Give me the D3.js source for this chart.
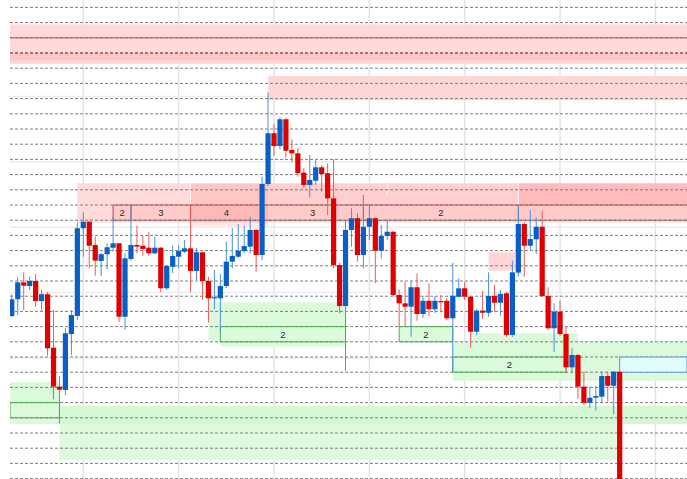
<!DOCTYPE html>
<html><head><meta charset="utf-8">
<script src="https://cdn.jsdelivr.net/npm/d3@7"></script>
<style>html,body{margin:0;padding:0;background:#fff;overflow:hidden}</style>
</head><body><svg id="c" width="687" height="479"></svg>
<script>
// ---- data (price units) ----
const opens = [107.0,118.0,129.1,126.7,130.0,116.8,121.3,86.1,60.5,58.3,
95.1,107.0,164.7,169.0,153.7,143.2,147.6,151.9,154.8,106.5,
144.5,153.7,153.2,151.9,148.2,151.9,125.2,139.4,146.0,149.3,
151.5,136.6,148.9,130.0,118.6,118.6,126.7,142.7,146.0,149.7,
152.6,163.6,147.1,193.8,227.2,218.8,236.4,216.2,214.0,201.3,
193.2,196.0,204.8,200.9,184.4,140.5,113.6,163.6,171.3,147.1,
165.7,171.3,149.9,159.6,162.4,120.8,115.3,113.1,125.9,108.3,
117.0,111.4,116.8,117.0,105.5,119.7,125.2,119.7,96.6,110.5,
109.1,120.1,115.7,121.9,94.5,135.5,167.5,153.2,157.4,165.7,
120.1,98.9,109.8,95.1,73.2,81.3,60.5,49.9,53.2,53.9,
67.5,61.1,70.3];
const highs = [121.3,132.4,135.7,132.8,134.6,124.1,122.8,110.9,67.5,98.9,
110.9,168.6,175.2,169.5,159.2,148.4,154.8,172.8,155.0,148.2,
179.5,166.4,159.8,162.4,159.2,152.4,140.5,153.2,153.7,157.0,
179.5,151.7,149.1,132.8,137.2,134.6,155.9,164.7,167.5,166.4,
172.3,164.2,198.6,254.1,233.3,237.7,237.2,223.2,217.3,204.3,
212.9,209.6,206.3,207.4,210.1,141.8,170.1,177.8,174.7,186.6,
180.5,171.8,166.8,170.1,162.9,124.5,129.5,130.0,135.1,120.1,
128.5,120.1,120.8,118.8,142.0,131.8,129.5,120.1,111.4,123.6,
135.7,127.4,124.1,122.8,143.4,179.5,168.8,176.7,171.9,176.3,
125.9,115.3,117.0,99.9,85.7,82.0,70.3,60.5,60.9,70.3,
70.3,70.8,70.5];
const lows = [106.3,107.6,110.9,124.1,113.1,110.5,80.9,52.4,36.4,55.0,
81.3,104.3,146.0,138.4,133.5,133.3,137.7,149.3,103.0,97.8,
143.2,148.2,146.6,146.6,147.8,122.6,124.1,135.1,138.4,148.4,
122.6,130.7,117.5,102.8,111.4,96.6,125.4,138.4,144.9,148.4,
148.2,136.1,143.8,192.5,212.2,216.6,211.1,207.8,198.6,191.8,
185.1,193.2,188.8,173.4,138.6,108.8,71.0,152.6,142.7,138.4,
157.0,128.5,144.9,157.0,120.1,99.9,100.4,93.4,103.9,105.7,
107.0,109.0,109.8,104.3,70.3,118.8,117.5,86.1,94.5,105.0,
106.5,109.8,107.0,93.2,93.2,132.8,132.8,150.4,147.8,119.5,
97.8,83.5,93.8,69.3,69.9,52.4,48.4,46.3,44.7,49.5,
50.6,42.5,-3.0];
const closes = [118.0,129.1,126.9,130.0,116.8,121.3,85.7,60.5,58.5,95.6,
107.6,164.7,169.0,153.2,143.4,147.6,152.2,154.8,106.5,144.9,
153.7,152.6,151.1,148.2,151.9,125.2,139.9,146.5,149.7,151.5,
136.6,148.9,130.0,118.6,119.3,126.7,142.7,146.5,149.9,153.0,
163.6,147.1,193.8,227.2,218.8,236.4,215.7,214.0,200.9,193.2,
196.5,204.8,200.4,184.4,140.5,113.6,163.6,171.3,147.1,165.7,
171.3,149.9,159.6,162.4,120.8,115.3,113.1,125.9,108.3,117.0,
111.4,117.0,116.2,105.5,120.3,125.2,119.7,96.6,110.5,109.1,
120.1,115.7,121.5,94.5,135.7,167.5,153.2,157.6,165.7,120.1,
98.9,109.8,95.1,73.2,81.3,60.5,49.9,53.2,54.3,67.5,
61.1,70.3,-2.0];

// dashed price levels
const levels = [310,300,290,280,270,260,250,240,230,220,210,200,190,180,170,160,
150,140,130,120,110,100,90,80,70,60,50,40,30,20,10,0];
// chart grid
const gridPrices = [294.5,251.4,208.4,165.4,122.4,79.4,36.4];
const gridIndex = [12,28,44,60,76,92,108];

// zones: [fromIndex, toIndex, top, bottom]  (null = chart edge)
const supplyZones = [
  [null,null,298.9,272.8],[null,null,280.0,274.9],[43,null,264.9,249.1],
  [11,null,194.3,168.4],[30,43,194.3,164.9],[43,85,194.3,179.8],
  [85,null,194.3,179.8],[80,84.5,148.9,136.8]];
const supplyShade = [0.15,0.09,0.16,0.145,0.09,0.05,0.14,0.16];
const demandZones = [
  [null,8,63.75,35.9],[8,null,47.8,35.9],[8,101.6,35.9,12.2],
  [33,56,116.0,90.7],[35,56,90.7,86.8],[65,74,100,90],
  [74,null,90.1,64.2],[77,95,95.6,90.1]];
const demandShade = [0.14,0.17,0.13,0.14,0.14,0.14,0.14,0.14];

// supply zone lines
const supplyLinePrices = [290,180];
const supplyLineFrom = [null,17];
const supplyDashPrices = [280,170];
const supplyDashFrom = [null,17];
// supply box segments
const segBounds = [17,20,30,42,59,85];
const segLabels = ["2","3","4","3","2"];
const segTop = 180, segBottom = 170;
// demand boxes [from,to,top,bottom]
const demandBoxes = [[null,8,50,40],[35,56,100,90],[65,74,100,90],[74,93,80,70]];
const demandLabels = ["","2","2","2"];
const freshBox = [102,null,80,70];

// ---- drawing ----
const svg = d3.select('#c');
const x = d3.scaleLinear().domain([-0.3, 113.3]).range([10, 687]);
const y = d3.scaleLinear().domain([-0.26, 314.87]).range([479, 0]);
const X0 = x.domain()[0], X1 = x.domain()[1];
const fx = v => x(v === null ? X0 : v);
const tx = v => x(v === null ? X1 : v);

svg.append('defs').append('clipPath').attr('id','plot')
  .append('rect').attr('x',10).attr('y',0).attr('width',677).attr('height',479);
const g = svg.append('g').attr('clip-path','url(#plot)');

// chart grid
g.selectAll('.vg').data(gridIndex).enter().append('line')
  .attr('x1',d=>x(d)).attr('x2',d=>x(d)).attr('y1',0).attr('y2',479)
  .attr('stroke','#e4e4e4').attr('stroke-width',1.5);
g.selectAll('.hg').data(gridPrices).enter().append('line')
  .attr('x1',10).attr('x2',687).attr('y1',d=>y(d)).attr('y2',d=>y(d))
  .attr('stroke','#ececec').attr('stroke-width',1.5);

// zone underlay
const allZones = supplyZones.concat(demandZones);
g.selectAll('.under').data(allZones).enter().append('rect')
  .attr('x',d=>fx(d[0])).attr('width',d=>tx(d[1])-fx(d[0]))
  .attr('y',d=>y(d[2])).attr('height',d=>y(d[3])-y(d[2])).attr('fill','#fff');
g.selectAll('.sz').data(supplyZones).enter().append('rect')
  .attr('x',d=>fx(d[0])).attr('width',d=>tx(d[1])-fx(d[0]))
  .attr('y',d=>y(d[2])).attr('height',d=>y(d[3])-y(d[2]))
  .attr('fill','rgb(255,0,0)').attr('fill-opacity',(d,i)=>supplyShade[i]);
g.selectAll('.dz').data(demandZones).enter().append('rect')
  .attr('x',d=>fx(d[0])).attr('width',d=>tx(d[1])-fx(d[0]))
  .attr('y',d=>y(d[2])).attr('height',d=>y(d[3])-y(d[2]))
  .attr('fill','rgb(0,210,0)').attr('fill-opacity',(d,i)=>demandShade[i]);
// supply segment box fill
g.append('rect').attr('x',x(segBounds[0])).attr('width',x(X1)-x(segBounds[0]))
  .attr('y',y(segTop)).attr('height',y(segBottom)-y(segTop))
  .attr('fill','rgb(255,0,0)').attr('fill-opacity',0.07);
// white zone seams
g.selectAll('.seam').data([30,63,85]).enter().append('line')
  .attr('x1',d=>x(d)).attr('x2',d=>x(d)).attr('y1',y(194.3)).attr('y2',d=>y(d===63?186.6:180))
  .attr('stroke','#fff').attr('stroke-width',1).attr('stroke-opacity',0.8);

// dashed levels
g.selectAll('.lv').data(levels).enter().append('line')
  .attr('x1',10).attr('x2',687).attr('y1',d=>y(d)).attr('y2',d=>y(d))
  .attr('stroke','#7e7e7e').attr('stroke-dasharray','3,2').attr('stroke-width',1);

// supply lines
g.selectAll('.sl').data(supplyLinePrices).enter().append('line')
  .attr('x1',(d,i)=>fx(supplyLineFrom[i])).attr('x2',687)
  .attr('y1',d=>y(d)).attr('y2',d=>y(d)).attr('stroke','#b05a5a').attr('stroke-width',1);
g.selectAll('.sd').data(supplyDashPrices).enter().append('line')
  .attr('x1',(d,i)=>fx(supplyDashFrom[i])).attr('x2',687)
  .attr('y1',d=>y(d)).attr('y2',d=>y(d)).attr('stroke','#6e5050')
  .attr('stroke-dasharray','3,2').attr('stroke-width',1);
g.selectAll('.div').data(segBounds).enter().append('line')
  .attr('x1',d=>x(d)).attr('x2',d=>x(d)).attr('y1',y(segTop)).attr('y2',y(segBottom))
  .attr('stroke','#c84040').attr('stroke-width',1);

// demand boxes
g.selectAll('.db').data(demandBoxes).enter().append('rect')
  .attr('x',d=>fx(d[0])).attr('width',d=>tx(d[1])-fx(d[0]))
  .attr('y',d=>y(d[2])).attr('height',d=>y(d[3])-y(d[2]))
  .attr('fill','none').attr('stroke','#4fae4f').attr('stroke-width',1);
g.append('rect').attr('x',fx(freshBox[0])).attr('width',tx(freshBox[1])-fx(freshBox[0]))
  .attr('y',y(freshBox[2])).attr('height',y(freshBox[3])-y(freshBox[2]))
  .attr('fill','#e2fbff').attr('stroke','#5a9ccc').attr('stroke-width',1);

// candles
const idx = d3.range(opens.length);
const bw = 5.2;
g.selectAll('.wick').data(idx).enter().append('line')
  .attr('x1',i=>x(i)).attr('x2',i=>x(i)).attr('y1',i=>y(highs[i])).attr('y2',i=>y(lows[i]))
  .attr('stroke',i=>closes[i]>=opens[i]?'#4a8fde':'#e85c5c').attr('stroke-width',1);
g.selectAll('.body').data(idx).enter().append('rect')
  .attr('x',i=>x(i)-bw/2).attr('width',bw)
  .attr('y',i=>y(Math.max(opens[i],closes[i])))
  .attr('height',i=>Math.max(1.2,Math.abs(y(opens[i])-y(closes[i]))))
  .attr('fill',i=>closes[i]>=opens[i]?'#0a5fc6':'#e00000');

// labels
const segs = segLabels.map((t,i)=>({t, c:(segBounds[i]+segBounds[i+1])/2}));
g.selectAll('.slab').data(segs).enter().append('text')
  .attr('x',d=>x(d.c)).attr('y',y((segTop+segBottom)/2)+3.4)
  .attr('text-anchor','middle').attr('font-family','Liberation Sans, Arial, sans-serif')
  .attr('font-size',9.5).attr('fill','#2a2a2a').text(d=>d.t);
g.selectAll('.dlab').data(demandBoxes).enter().append('text')
  .attr('x',d=>(fx(d[0])+tx(d[1]))/2).attr('y',d=>y((d[2]+d[3])/2)+3.4)
  .attr('text-anchor','middle').attr('font-family','Liberation Sans, Arial, sans-serif')
  .attr('font-size',9.5).attr('fill','#2a2a2a').text((d,i)=>demandLabels[i]);
</script></body></html>
